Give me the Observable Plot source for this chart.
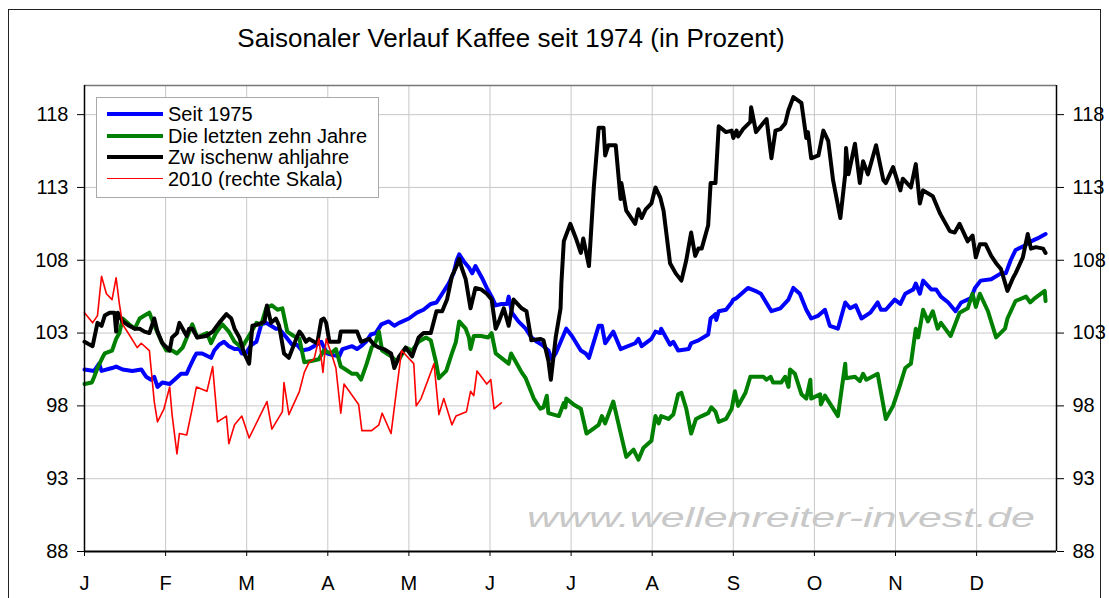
<!DOCTYPE html>
<html>
<head>
<meta charset="utf-8">
<script src="https://cdn.jsdelivr.net/npm/d3@7"></script>
<script src="https://cdn.jsdelivr.net/npm/@observablehq/plot@0.6"></script>
<style>
  html, body { margin: 0; padding: 0; background: #fff; }
  #wrap { position: relative; width: 1109px; height: 598px; overflow: hidden; font-family: "Liberation Sans", Arial, sans-serif; }
  #border { position: absolute; left: 8px; top: 9px; width: 1093px; height: 620px; border: 1.5px solid #222; box-sizing: border-box; }
  #title { position: absolute; left: 0; top: 25px; width: 1022px; text-align: center; font-size: 26px; line-height: 26px; color: #000; }
  #legend { position: absolute; left: 96px; top: 97px; width: 283px; height: 101px; background: #fff; border: 1px solid #aaa; box-sizing: border-box; }
  .row { position: absolute; left: 0; height: 22px; width: 100%; }
  .sw { position: absolute; left: 10px; width: 56px; top: 10px; }
  .lab { position: absolute; left: 71px; top: 0; font-size: 20px; line-height: 22px; white-space: nowrap; color: #000; }
  svg { position: absolute; left: 0; top: 0; }
</style>
</head>
<body>
<div id="wrap">
  <div id="border"></div>
  <div id="chart"></div>
  <div id="title"></div>
  <div id="legend"></div>
</div>
<script>
const titleText = "Saisonaler Verlauf Kaffee seit 1974 (in Prozent)";
const monthLabels = ["J","F","M","A","M","J","J","A","S","O","N","D"];
const yTicks = [88, 93, 98, 103, 108, 113, 118];
const seriesNames = ["Seit 1975", "Die letzten zehn Jahre", "Zw ischenw ahljahre", "2010 (rechte Skala)"];
const watermark = "www.wellenreiter-invest.de";

// x = position within the year in months (0 = start of January)
const seit1975 = [[0,100.5],[0.12,100.4],[0.18,100.9],[0.21,100.4],[0.34,100.6],[0.39,100.7],[0.47,100.5],[0.59,100.4],[0.70,100.5],[0.76,100.0],[0.82,99.8],[0.86,100.0],[0.90,99.3],[0.96,99.6],[1.05,99.5],[1.13,99.9],[1.19,100.2],[1.26,100.2],[1.29,100.6],[1.35,101.3],[1.38,101.6],[1.45,101.6],[1.56,101.3],[1.60,101.8],[1.66,102.2],[1.72,102.4],[1.78,102.1],[1.85,101.9],[1.91,101.9],[1.94,101.6],[1.99,101.6],[2.06,102.2],[2.12,102.4],[2.18,103.6],[2.24,103.7],[2.30,103.5],[2.36,103.3],[2.40,103.3],[2.49,102.7],[2.56,102.2],[2.62,102.2],[2.68,101.8],[2.77,101.9],[2.86,102.2],[2.92,102.4],[2.99,101.6],[3.05,101.5],[3.14,101.4],[3.18,101.9],[3.30,102.1],[3.36,101.9],[3.41,102.1],[3.47,102.4],[3.53,102.9],[3.59,103.0],[3.66,103.6],[3.75,103.8],[3.82,103.5],[3.88,103.7],[4.00,104.0],[4.10,104.4],[4.18,104.6],[4.27,105.0],[4.34,105.1],[4.41,105.7],[4.49,106.4],[4.55,107.1],[4.59,108.0],[4.62,108.4],[4.68,107.9],[4.74,107.5],[4.78,107.1],[4.82,107.6],[4.90,106.8],[4.96,106.1],[5.02,105.5],[5.07,104.9],[5.14,105.0],[5.21,105.0],[5.23,105.5],[5.27,104.4],[5.35,103.8],[5.44,103.3],[5.51,102.7],[5.58,102.4],[5.64,102.2],[5.72,101.8],[5.76,101.2],[5.81,101.6],[5.91,102.9],[5.94,103.3],[6.01,102.8],[6.12,101.8],[6.18,101.6],[6.22,101.3],[6.28,102.4],[6.34,103.5],[6.38,103.5],[6.42,102.3],[6.52,103.1],[6.61,101.9],[6.79,102.3],[6.83,102.6],[6.87,102.1],[6.99,102.6],[7.04,103.1],[7.10,103.0],[7.11,103.3],[7.22,102.2],[7.26,102.4],[7.32,101.8],[7.45,101.9],[7.48,102.3],[7.57,102.5],[7.69,102.9],[7.72,104.0],[7.78,104.3],[7.79,103.9],[7.82,104.5],[7.91,104.6],[7.98,105.1],[8.00,105.3],[8.04,105.4],[8.10,105.7],[8.18,106.1],[8.27,105.9],[8.34,105.7],[8.47,104.5],[8.58,104.7],[8.68,105.3],[8.74,106.1],[8.82,105.7],[8.90,104.6],[8.96,104.0],[9.05,104.2],[9.13,104.6],[9.19,103.5],[9.29,103.3],[9.38,105.1],[9.44,104.7],[9.51,104.9],[9.58,104.0],[9.69,104.4],[9.78,105.1],[9.82,104.6],[9.88,104.6],[9.99,105.3],[10.06,105.0],[10.12,105.7],[10.22,106.0],[10.25,106.4],[10.30,105.7],[10.34,106.6],[10.44,106.0],[10.50,106.0],[10.56,105.5],[10.65,105.1],[10.74,104.5],[10.81,105.1],[10.93,105.4],[10.98,106.1],[11.05,106.6],[11.18,106.7],[11.30,107.1],[11.36,107.1],[11.42,108.0],[11.48,108.7],[11.59,109.0],[11.67,109.3],[11.75,109.5],[11.85,109.8]];

const letzteZehnJahre = [[0,99.5],[0.09,99.6],[0.12,100.0],[0.16,100.6],[0.22,101.3],[0.25,101.6],[0.34,101.8],[0.39,102.6],[0.43,103.0],[0.47,104.0],[0.55,103.6],[0.62,103.3],[0.68,104.0],[0.74,104.2],[0.80,104.4],[0.84,103.8],[0.95,102.4],[1.01,101.8],[1.08,101.8],[1.14,101.6],[1.21,102.0],[1.33,103.6],[1.39,102.7],[1.51,103.0],[1.56,102.3],[1.62,103.0],[1.70,103.6],[1.78,103.1],[1.85,102.4],[1.94,102.0],[2.06,103.1],[2.12,103.7],[2.18,103.6],[2.24,104.7],[2.31,104.9],[2.38,104.6],[2.44,104.7],[2.50,103.1],[2.58,102.8],[2.65,102.6],[2.71,101.0],[2.81,101.1],[2.89,101.2],[2.95,101.8],[3.04,101.6],[3.10,101.9],[3.16,100.7],[3.22,100.5],[3.30,100.2],[3.36,100.2],[3.41,99.8],[3.48,100.9],[3.54,102.0],[3.59,102.4],[3.63,103.1],[3.67,101.8],[3.78,101.4],[3.84,101.1],[3.88,101.2],[3.96,102.0],[4.04,101.8],[4.12,102.4],[4.21,102.7],[4.27,102.5],[4.33,101.1],[4.37,99.9],[4.46,100.4],[4.53,101.6],[4.58,102.4],[4.62,103.8],[4.70,103.3],[4.74,102.7],[4.76,101.9],[4.80,102.8],[4.89,102.8],[4.98,102.7],[5.02,103.0],[5.07,101.6],[5.14,101.3],[5.23,100.9],[5.26,101.6],[5.35,100.7],[5.39,100.3],[5.44,99.9],[5.54,98.5],[5.62,97.8],[5.66,97.9],[5.70,98.7],[5.72,97.5],[5.85,97.3],[5.91,98.2],[5.93,97.9],[5.94,98.5],[6.03,98.1],[6.12,97.8],[6.19,96.1],[6.34,96.7],[6.38,97.3],[6.42,96.8],[6.52,98.3],[6.65,95.2],[6.68,94.5],[6.77,95.0],[6.83,94.3],[6.89,95.1],[6.99,95.6],[7.04,97.3],[7.08,96.8],[7.11,97.3],[7.20,97.1],[7.26,97.4],[7.32,98.8],[7.36,98.9],[7.42,97.8],[7.48,96.1],[7.54,97.1],[7.61,97.3],[7.69,97.5],[7.73,97.9],[7.78,97.6],[7.82,96.9],[7.91,97.1],[7.98,97.8],[8.02,99.0],[8.06,98.0],[8.15,98.9],[8.21,100.0],[8.37,100.0],[8.41,99.8],[8.46,100.0],[8.49,99.6],[8.59,99.6],[8.64,100.0],[8.68,99.3],[8.70,100.5],[8.76,100.2],[8.84,98.8],[8.90,98.5],[8.95,99.8],[8.96,98.5],[9.07,98.8],[9.08,98.1],[9.13,98.7],[9.29,97.3],[9.38,100.9],[9.39,99.9],[9.50,100.0],[9.56,99.7],[9.60,100.2],[9.64,99.8],[9.78,100.2],[9.88,97.1],[9.97,98.0],[10.06,99.5],[10.12,100.6],[10.19,100.9],[10.25,103.3],[10.28,102.7],[10.34,104.6],[10.40,103.8],[10.46,104.5],[10.52,103.3],[10.56,103.7],[10.68,102.8],[10.79,104.4],[10.89,104.7],[10.95,105.7],[10.99,104.8],[11.04,105.7],[11.14,104.5],[11.24,102.7],[11.35,103.3],[11.38,104.0],[11.48,105.2],[11.61,105.5],[11.66,105.1],[11.72,105.4],[11.84,105.9],[11.85,105.2]];

const zwischenwahljahre = [[0,102.4],[0.10,102.1],[0.16,103.7],[0.21,103.5],[0.25,104.2],[0.31,104.4],[0.37,104.4],[0.39,103.1],[0.41,104.4],[0.47,103.8],[0.55,103.5],[0.62,103.3],[0.68,103.3],[0.74,103.1],[0.80,103.0],[0.86,104.0],[0.90,103.1],[0.96,102.3],[1.05,101.8],[1.08,102.7],[1.14,103.0],[1.17,103.7],[1.21,103.3],[1.26,102.8],[1.29,103.3],[1.33,103.3],[1.39,102.7],[1.50,102.8],[1.58,103.1],[1.66,103.7],[1.75,104.3],[1.81,104.0],[1.85,103.3],[1.91,102.7],[1.97,101.6],[2.03,100.9],[2.07,103.5],[2.15,103.6],[2.22,103.8],[2.25,104.9],[2.30,103.7],[2.36,104.0],[2.40,103.5],[2.46,101.6],[2.52,101.3],[2.61,102.6],[2.65,103.1],[2.68,102.9],[2.73,102.4],[2.77,102.6],[2.83,102.4],[2.87,102.3],[2.92,103.9],[2.95,104.0],[2.98,103.7],[3.02,102.4],[3.14,102.4],[3.16,103.1],[3.36,103.1],[3.41,102.4],[3.51,102.6],[3.57,102.2],[3.63,102.0],[3.69,101.9],[3.78,101.6],[3.82,100.6],[3.88,101.4],[3.96,102.0],[4.04,101.4],[4.12,102.7],[4.18,103.0],[4.27,103.0],[4.34,104.5],[4.41,104.5],[4.47,105.3],[4.53,106.9],[4.58,107.5],[4.62,108.1],[4.65,107.5],[4.70,106.7],[4.76,104.7],[4.82,106.1],[4.89,106.0],[4.96,105.7],[5.02,105.3],[5.07,103.3],[5.11,103.8],[5.17,104.7],[5.23,103.5],[5.29,105.3],[5.39,104.7],[5.45,104.5],[5.51,102.5],[5.62,102.6],[5.66,102.5],[5.72,101.1],[5.75,99.8],[5.81,102.7],[5.87,104.7],[5.88,106.4],[5.91,109.3],[5.99,110.5],[6.06,109.5],[6.12,108.5],[6.15,109.5],[6.22,107.6],[6.28,113.0],[6.34,117.1],[6.40,117.1],[6.42,115.2],[6.46,115.9],[6.55,115.9],[6.61,112.2],[6.62,113.3],[6.68,111.4],[6.79,110.5],[6.83,111.5],[6.87,110.9],[6.92,111.5],[6.99,111.9],[7.04,113.0],[7.10,112.3],[7.14,111.4],[7.22,107.8],[7.29,107.1],[7.36,106.6],[7.42,108.0],[7.48,109.9],[7.53,108.3],[7.57,108.8],[7.61,108.8],[7.69,110.4],[7.72,113.3],[7.78,113.3],[7.82,117.2],[7.91,116.8],[7.98,116.9],[8.00,116.4],[8.04,116.9],[8.06,116.5],[8.12,117.0],[8.21,117.5],[8.22,118.5],[8.28,116.8],[8.41,117.7],[8.47,115.0],[8.52,116.9],[8.58,117.0],[8.64,117.4],[8.68,118.3],[8.74,119.2],[8.84,118.8],[8.90,116.4],[8.92,116.8],[8.96,115.0],[9.05,115.2],[9.11,116.9],[9.17,116.2],[9.23,113.5],[9.32,110.9],[9.38,113.9],[9.39,115.7],[9.42,113.9],[9.50,116.0],[9.56,113.3],[9.60,114.8],[9.66,113.9],[9.76,115.9],[9.85,113.5],[9.88,113.3],[9.97,114.4],[10.06,112.8],[10.09,113.6],[10.19,113.0],[10.25,114.6],[10.30,111.9],[10.34,112.8],[10.46,112.4],[10.55,111.2],[10.67,110.0],[10.73,109.9],[10.79,110.5],[10.89,109.3],[10.95,109.7],[10.99,108.2],[11.04,109.1],[11.11,109.1],[11.18,108.3],[11.24,107.8],[11.30,107.4],[11.38,105.9],[11.45,106.8],[11.48,107.1],[11.57,108.2],[11.63,109.8],[11.67,108.8],[11.73,108.9],[11.82,108.8],[11.85,108.5]];

const jahr2010 = [[0,104.4],[0.10,103.7],[0.16,104.2],[0.21,106.9],[0.27,105.7],[0.34,105.3],[0.39,106.8],[0.43,105.0],[0.47,103.6],[0.55,102.9],[0.65,102.0],[0.70,102.3],[0.80,101.8],[0.86,98.3],[0.90,96.9],[0.98,97.8],[1.05,99.3],[1.08,97.4],[1.14,94.7],[1.17,96.1],[1.26,96.0],[1.32,97.6],[1.38,99.3],[1.51,99.0],[1.58,100.7],[1.64,96.9],[1.75,97.3],[1.78,95.4],[1.85,96.7],[1.94,97.3],[2.03,95.8],[2.18,97.5],[2.25,98.3],[2.31,96.4],[2.44,97.6],[2.46,99.6],[2.52,97.4],[2.65,99.0],[2.71,100.3],[2.77,101.0],[2.83,101.2],[2.89,102.6],[2.94,100.3],[2.98,102.6],[3.05,101.5],[3.10,100.6],[3.16,97.5],[3.20,99.5],[3.38,98.1],[3.42,96.3],[3.54,96.3],[3.63,96.7],[3.67,97.5],[3.78,96.1],[3.85,99.2],[3.91,101.8],[4.06,100.9],[4.09,98.0],[4.15,98.5],[4.31,100.9],[4.37,97.4],[4.43,98.5],[4.53,96.7],[4.58,97.3],[4.71,97.6],[4.76,99.0],[4.80,98.7],[4.84,100.4],[4.96,99.5],[5.01,99.8],[5.05,97.8],[5.14,98.2]];

const colors = ["#0000ff", "#008000", "#000000", "#ff0000"];
const widths = [4, 4, 4, 1.6];
const seriesData = [seit1975, letzteZehnJahre, zwischenwahljahre, jahr2010];

const xMax = 11.985;
const yDomain = [88, 120];

const chart = Plot.plot({
  width: 1109,
  height: 598,
  marginLeft: 84,
  marginRight: 53,
  marginTop: 85,
  marginBottom: 47,
  style: { fontFamily: "Liberation Sans, Arial, sans-serif", fontSize: "20px", background: "transparent", color: "#000" },
  x: { domain: [0, xMax] },
  y: { domain: yDomain },
  marks: [
    Plot.gridX(d3.range(1, 12), { stroke: "#c8c8c8", strokeOpacity: 1 }),
    Plot.gridY(yTicks.filter(t => t > 88), { stroke: "#c8c8c8", strokeOpacity: 1 }),
    Plot.ruleY([yDomain[1]], { stroke: "#777", strokeWidth: 1.5 }),
    ...seriesData.map((s, i) => Plot.line(s, { x: d => d[0], y: d => d[1], stroke: colors[i], strokeWidth: widths[i], strokeLinejoin: "round", strokeLinecap: "round" })),
    Plot.ruleX([0], { stroke: "#000", strokeWidth: 1.5 }),
    Plot.ruleX([xMax], { stroke: "#000", strokeWidth: 1.5 }),
    Plot.ruleY([yDomain[0]], { stroke: "#000", strokeWidth: 2 }),
    Plot.axisY({ ticks: yTicks, tickFormat: d => String(d), tickSize: 7, tickPadding: 9, fontSize: 20, label: null, anchor: "left" }),
    Plot.axisY({ ticks: yTicks, tickFormat: d => String(d), tickSize: 7, tickPadding: 9, fontSize: 20, label: null, anchor: "right" }),
    Plot.axisX({ ticks: d3.range(12), tickFormat: i => monthLabels[i], tickSize: 5, tickPadding: 19, fontSize: 20, label: null })
  ]
});
document.getElementById("chart").appendChild(chart);

// watermark
d3.select(chart).append("text")
  .attr("x", 527).attr("y", 527)
  .attr("text-anchor", "start")
  .attr("textLength", 508).attr("lengthAdjust", "spacingAndGlyphs")
  .attr("font-size", 27).attr("font-style", "italic")
  .attr("fill", "#c8c8c8")
  .attr("font-family", "Liberation Sans, Arial, sans-serif")
  .text(watermark);

document.getElementById("title").textContent = titleText;

const leg = document.getElementById("legend");
seriesNames.forEach((name, i) => {
  const row = document.createElement("div");
  row.className = "row";
  row.style.top = (5 + i * 21.7) + "px";
  const sw = document.createElement("div");
  sw.className = "sw";
  sw.style.borderTop = widths[i] + "px solid " + colors[i];
  sw.style.top = (11 - widths[i] / 2) + "px";
  const lab = document.createElement("div");
  lab.className = "lab";
  lab.textContent = name;
  row.appendChild(sw);
  row.appendChild(lab);
  leg.appendChild(row);
});
</script>
</body>
</html>
